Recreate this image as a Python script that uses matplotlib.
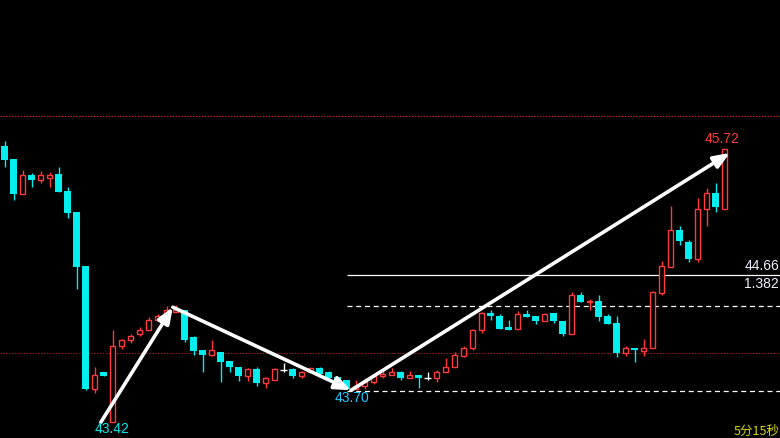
import matplotlib
matplotlib.use("Agg")
import matplotlib.pyplot as plt
import numpy as np

# ---- data ----
opens = [45.75, 45.64, 45.34, 45.50, 45.46, 45.48, 45.51, 45.37, 45.19, 44.74,
         43.70, 43.84, 43.42, 44.06, 44.11, 44.16, 44.20, 44.28, 44.32, 44.35,
         44.37, 44.14, 44.03, 43.99, 44.01, 43.94, 43.89, 43.81, 43.87, 43.75,
         43.78, 43.86, 43.87, 43.81, 43.84, 43.88, 43.84, 43.80, 43.78, 43.70,
         43.73, 43.76, 43.81, 43.82, 43.84, 43.79, 43.82, 43.79, 43.79, 43.84,
         43.89, 43.98, 44.05, 44.20, 44.34, 44.32, 44.22, 44.21, 44.33, 44.32,
         44.27, 44.34, 44.27, 44.16, 44.49, 44.43, 44.44, 44.32, 44.26, 44.00,
         44.05, 44.02, 44.05, 44.51, 44.73, 45.04, 44.94, 44.80, 45.22, 45.35,
         45.22]
highs = [45.79, 45.64, 45.55, 45.52, 45.54, 45.53, 45.57, 45.40, 45.19, 44.74,
         43.89, 43.84, 44.20, 44.12, 44.16, 44.22, 44.31, 44.33, 44.40, 44.41,
         44.37, 44.15, 44.03, 44.11, 44.01, 43.94, 43.89, 43.88, 43.89, 43.80,
         43.88, 43.92, 43.88, 43.85, 43.88, 43.89, 43.85, 43.80, 43.78, 43.78,
         43.79, 43.81, 43.85, 43.88, 43.85, 43.85, 43.82, 43.84, 43.86, 43.96,
         44.01, 44.06, 44.21, 44.35, 44.37, 44.33, 44.28, 44.36, 44.37, 44.32,
         44.34, 44.34, 44.27, 44.52, 44.52, 44.46, 44.49, 44.33, 44.32, 44.06,
         44.05, 44.12, 44.53, 44.78, 45.24, 45.07, 44.96, 45.31, 45.39, 45.44,
         45.72]
lows = [45.57, 45.29, 45.34, 45.40, 45.44, 45.40, 45.36, 45.14, 44.54, 43.69,
        43.67, 43.81, 43.42, 44.04, 44.09, 44.15, 44.20, 44.28, 44.32, 44.35,
        44.10, 43.99, 43.84, 43.98, 43.76, 43.84, 43.77, 43.77, 43.73, 43.71,
        43.78, 43.84, 43.79, 43.79, 43.84, 43.83, 43.79, 43.77, 43.70, 43.70,
        43.70, 43.74, 43.79, 43.82, 43.78, 43.79, 43.71, 43.78, 43.76, 43.84,
        43.89, 43.97, 44.03, 44.17, 44.28, 44.21, 44.20, 44.21, 44.31, 44.25,
        44.27, 44.26, 44.15, 44.16, 44.43, 44.37, 44.27, 44.25, 43.97, 43.98,
        43.93, 43.98, 44.05, 44.49, 44.73, 44.91, 44.77, 44.77, 45.07, 45.19,
        45.22]
closes = [45.63, 45.34, 45.50, 45.46, 45.50, 45.50, 45.36, 45.18, 44.73, 43.70,
          43.82, 43.81, 44.06, 44.11, 44.15, 44.20, 44.28, 44.32, 44.37, 44.37,
          44.11, 44.02, 43.99, 44.03, 43.93, 43.89, 43.81, 43.87, 43.75, 43.79,
          43.87, 43.86, 43.81, 43.84, 43.88, 43.83, 43.79, 43.77, 43.70, 43.73,
          43.76, 43.81, 43.83, 43.84, 43.79, 43.82, 43.79, 43.79, 43.84, 43.89,
          43.99, 44.05, 44.20, 44.34, 44.32, 44.21, 44.20, 44.33, 44.31, 44.27,
          44.33, 44.27, 44.16, 44.49, 44.43, 44.44, 44.31, 44.25, 44.00, 44.05,
          44.03, 44.05, 44.52, 44.74, 45.04, 44.95, 44.80, 45.22, 45.35, 45.23,
          45.72]

# reference levels
top_red_level = 46.00
mid_dotted_level = 44.00
fib_level = 44.66
fib_label = "1.382"
dash_levels = [44.40, 43.68]
level_start = 38.06

# drawn arrows (candle index, price)
arrow_x = [10.7, 18.7, 38.5, 80.6]
arrow_y = [43.42, 44.39, 43.69, 45.69]

# labels
low_label = "43.42"
mid_low_label = "43.70"
high_label = "45.72"
timer_label = "5分15秒"

RED = "#ff3b3b"
CYAN = "#00eeee"

fig = plt.figure(figsize=(7.8, 4.38), dpi=100)
fig.patch.set_facecolor("black")
ax = fig.add_axes([0, 0, 1, 1])
ax.set_facecolor("black")
ax.set_axis_off()
ax.set_xlim(-0.5, 780 / 9 - 0.5)
ax.set_ylim(43.288, 46.978)

# horizontal reference lines
ax.axhline(top_red_level, color="#d02020", lw=0.75, linestyle=(0, (1.4, 1.4)), zorder=1)
ax.axhline(mid_dotted_level, color="#a01818", lw=0.75, linestyle=(0, (1.4, 1.4)), zorder=1)
xmax = 780 / 9 - 0.5
ax.hlines(fib_level, level_start, xmax, color="white", lw=0.9, zorder=1)
for lv in dash_levels:
    ax.hlines(lv, level_start, xmax, color="white", lw=0.9,
              linestyles=[(0, (4.0, 3.0))], zorder=1)

# candles
w = 0.76
for i, (o, h, l, c) in enumerate(zip(opens, highs, lows, closes)):
    if c > o:
        ax.vlines(i, c, h, color=RED, lw=1.0, zorder=2)
        ax.vlines(i, l, o, color=RED, lw=1.0, zorder=2)
        ax.bar(i, c - o, bottom=o, width=w - 0.1, facecolor="black",
               edgecolor=RED, linewidth=1.0, zorder=3)
    elif c < o:
        ax.vlines(i, l, h, color=CYAN, lw=1.0, zorder=2)
        ax.bar(i, o - c, bottom=c, width=w, color=CYAN, linewidth=0, zorder=3)
    else:
        ax.vlines(i, l, h, color="white", lw=1.0, zorder=2)
        ax.hlines(o, i - w / 2, i + w / 2, color="white", lw=1.0, zorder=3)

# arrows
for k in range(len(arrow_x) - 1):
    ax.annotate("", xy=(arrow_x[k + 1], arrow_y[k + 1]), xytext=(arrow_x[k], arrow_y[k]),
                arrowprops=dict(arrowstyle="-|>,head_length=0.8,head_width=0.32",
                                color="white", lw=2.6, shrinkA=0, shrinkB=0,
                                mutation_scale=12),
                zorder=5)

# labels
ax.text(12, 43.42, low_label, color=CYAN, fontsize=10, family="Liberation Sans",
        ha="center", va="top", zorder=6)
ax.text(38.6, 43.685, mid_low_label, color="#22ccff", fontsize=10, family="Liberation Sans",
        ha="center", va="top", zorder=6)
ax.text(79.7, 45.745, high_label, color=RED, fontsize=10, family="Liberation Sans",
        ha="center", va="bottom", zorder=6)
ax.text(xmax - 0.1, fib_level + 0.015, f"{fib_level:.2f}", color="#f0f0ff", fontsize=10,
        family="Liberation Sans", ha="right", va="bottom", zorder=6)
ax.text(xmax - 0.1, fib_level - 0.015, fib_label, color="#f0f0ff", fontsize=10,
        family="Liberation Sans", ha="right", va="top", zorder=6)
ax.text(1.0, 0.0, timer_label, transform=ax.transAxes, color="#d8d800", fontsize=9,
        family=["Noto Sans CJK SC", "DejaVu Sans"], ha="right", va="bottom", zorder=6)

fig.savefig("out.png", dpi=100, facecolor="black")
